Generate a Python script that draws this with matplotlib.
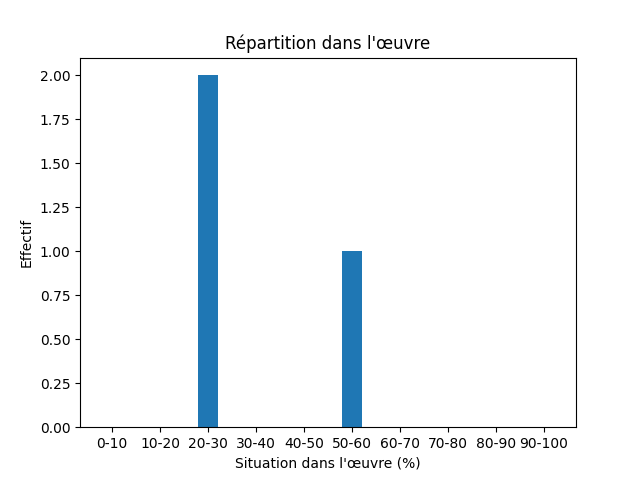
import matplotlib
matplotlib.use("Agg")
import matplotlib.pyplot as plt

categories = ["0-10", "10-20", "20-30", "30-40", "40-50", "50-60", "60-70", "70-80", "80-90", "90-100"]
counts = [0, 0, 2, 0, 0, 1, 0, 0, 0, 0]

fig, ax = plt.subplots(figsize=(6.4, 4.8), dpi=100)
ax.bar(range(len(categories)), counts, width=0.4, color="#1f77b4")
ax.set_xticks(range(len(categories)))
ax.set_xticklabels(categories)
ax.set_title("Répartition dans l'œuvre")
ax.set_xlabel("Situation dans l'œuvre (%)")
ax.set_ylabel("Effectif")
fig.savefig("out.png")
